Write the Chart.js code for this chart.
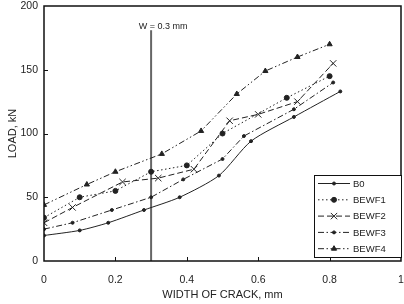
<!DOCTYPE html>
<html>
<head>
<meta charset="utf-8">
<script src="https://cdn.jsdelivr.net/npm/chart.js@4/dist/chart.umd.min.js"></script>
<style>
  html, body { margin: 0; padding: 0; background: #fff; }
  #wrap { width: 404px; height: 304px; }
</style>
</head>
<body>
<div id="wrap"><canvas id="myChart" width="404" height="304"></canvas></div>
<script>
// data
const xB0 = [0, 0.10, 0.18, 0.28, 0.38, 0.49, 0.58, 0.70, 0.83];
const yB0 = [20, 24, 30, 40, 50, 67, 94, 113, 133];

const xF1 = [0, 0.10, 0.20, 0.30, 0.40, 0.50, 0.68, 0.80];
const yF1 = [34, 50, 55, 70, 75, 100, 128, 145];

const xF2 = [0, 0.08, 0.22, 0.32, 0.42, 0.52, 0.60, 0.71, 0.81];
const yF2 = [30, 42, 62, 65, 72, 110, 115, 125, 155];

const xF3 = [0, 0.08, 0.19, 0.30, 0.39, 0.50, 0.56, 0.70, 0.81];
const yF3 = [25, 30, 40, 50, 64, 80, 98, 119, 140];

const xF4 = [0, 0.12, 0.20, 0.33, 0.44, 0.54, 0.62, 0.71, 0.80];
const yF4 = [44, 60, 70, 84, 102, 131, 149, 160, 170];

const wLineX = [0.3, 0.3];
const wLineY = [0, 181];

const xTicks = ['0', '0.2', '0.4', '0.6', '0.8', '1'];
const yTicks = ['0', '50', '100', '150', '200'];

const pts = (xs, ys) => xs.map((x, i) => ({ x: x, y: ys[i] }));
const FONT = '"Liberation Sans", Arial, sans-serif';

const ctx = document.getElementById('myChart').getContext('2d');

// pin the plot box (and the axis strips round it) to where they sit in the figure
const areaPlugin = {
    id: 'areaPlugin',
    afterLayout(chart) {
        const a = chart.chartArea;
        a.left = 44; a.right = 401; a.top = 6; a.bottom = 261;
        a.width = a.right - a.left; a.height = a.bottom - a.top;
        const xs = chart.scales.x, ys = chart.scales.y;
        xs.left = a.left; xs.right = a.right; xs.width = a.width;
        xs.top = a.bottom; xs.bottom = 304; xs.height = 304 - a.bottom;
        ys.top = a.top; ys.bottom = a.bottom; ys.height = a.height;
        ys.left = 0; ys.right = a.left; ys.width = a.left;
        xs.configure(); ys.configure();
    }
};

const boxPlugin = {
    id: 'boxPlugin',
    afterDraw(chart) {
        const c = chart.ctx;
        const a = chart.chartArea;
        const xs = chart.scales.x, ys = chart.scales.y;
        c.save();
        // frame
        c.strokeStyle = '#111';
        c.lineWidth = 1.5;
        c.strokeRect(a.left, a.top, a.right - a.left, a.bottom - a.top);
        // inward ticks
        c.lineWidth = 1;
        c.beginPath();
        [0.2, 0.4, 0.6, 0.8].forEach(v => {
            const px = Math.round(xs.getPixelForValue(v)) + 0.5;
            c.moveTo(px, a.bottom); c.lineTo(px, a.bottom - 4);
        });
        [50, 100, 150].forEach(v => {
            const py = Math.round(ys.getPixelForValue(v)) + 0.5;
            c.moveTo(a.left, py); c.lineTo(a.left + 4, py);
        });
        c.stroke();
        // W = 0.3 mm label
        c.fillStyle = '#222';
        c.font = '9px ' + FONT;
        c.textAlign = 'center';
        c.textBaseline = 'bottom';
        c.fillText('W = 0.3 mm', xs.getPixelForValue(0.3) + 12, ys.getPixelForValue(181) + 1);
        // legend
        const lx = 314, ly = 175, lw = a.right - lx, lh = 82;
        c.fillStyle = '#fff';
        c.fillRect(lx, ly, lw, lh);
        c.strokeStyle = '#111';
        c.lineWidth = 1;
        c.strokeRect(lx + 0.5, ly + 0.5, lw, lh);
        c.textAlign = 'left';
        c.textBaseline = 'middle';
        c.font = '9.5px ' + FONT;
        chart.data.datasets.filter(d => d.label !== 'W').forEach((d, i) => {
            const y = ly + 8.5 + i * 16.3;
            c.strokeStyle = '#222';
            c.fillStyle = '#222';
            c.lineWidth = 1;
            c.setLineDash(d.borderDash || []);
            c.beginPath();
            c.moveTo(lx + 4, y); c.lineTo(lx + 36, y);
            c.stroke();
            c.setLineDash([]);
            Chart.helpers.drawPoint(c, {
                pointStyle: d.pointStyle, radius: d.pointRadius, borderWidth: 1,
                rotation: 0
            }, lx + 20, y);
            c.fillText(d.label, lx + 39, y + 0.5);
        });
        c.restore();
    }
};

const common = {
    borderColor: '#222',
    backgroundColor: '#222',
    pointBorderColor: '#222',
    pointBackgroundColor: '#222',
    borderWidth: 1,
    showLine: true,
    fill: false
};

const myChart = new Chart(ctx, {
    type: 'scatter',
    data: {
        datasets: [
            Object.assign({}, common, { label: 'B0', data: pts(xB0, yB0), pointStyle: 'circle', pointRadius: 1.5, tension: 0.25 }),
            Object.assign({}, common, { label: 'BEWF1', data: pts(xF1, yF1), pointStyle: 'circle', pointRadius: 2.5, borderDash: [1.5, 2.5] }),
            Object.assign({}, common, { label: 'BEWF2', data: pts(xF2, yF2), pointStyle: 'crossRot', pointRadius: 4.5, borderDash: [6, 3] }),
            Object.assign({}, common, { label: 'BEWF3', data: pts(xF3, yF3), pointStyle: 'circle', pointRadius: 1.5, borderDash: [6, 2.5, 1.5, 2.5] }),
            Object.assign({}, common, { label: 'BEWF4', data: pts(xF4, yF4), pointStyle: 'triangle', pointRadius: 3, borderDash: [6, 2.5, 1.5, 2.5, 1.5, 2.5] }),
            Object.assign({}, common, { label: 'W', data: pts(wLineX, wLineY), pointRadius: 0, borderColor: '#666', borderWidth: 2 })
        ]
    },
    options: {
        responsive: false,
        animation: false,
        layout: { padding: 0 },
        scales: {
            x: {
                type: 'linear',
                min: 0, max: 1,
                ticks: {
                    stepSize: 0.2,
                    padding: 13,
                    color: '#222',
                    font: { family: FONT, size: 10.5 },
                    maxRotation: 0,
                    callback: (v, i) => xTicks[i]
                },
                grid: { display: false, drawTicks: false },
                border: { display: false },
                title: {
                    display: true,
                    text: 'WIDTH OF CRACK, mm',
                    color: '#222',
                    font: { family: FONT, size: 11 },
                    padding: { top: 4, bottom: 2 }
                }
            },
            y: {
                min: 0, max: 200,
                ticks: {
                    stepSize: 50,
                    padding: 6,
                    color: '#222',
                    font: { family: FONT, size: 10.5 },
                    callback: (v, i) => yTicks[i]
                },
                grid: { display: false, drawTicks: false },
                border: { display: false },
                title: {
                    display: true,
                    text: 'LOAD, kN',
                    color: '#222',
                    font: { family: FONT, size: 11 },
                    padding: { top: 6, bottom: 2 }
                }
            }
        },
        plugins: {
            legend: { display: false },
            tooltip: { enabled: false }
        }
    },
    plugins: [areaPlugin, boxPlugin]
});
</script>
</body>
</html>
